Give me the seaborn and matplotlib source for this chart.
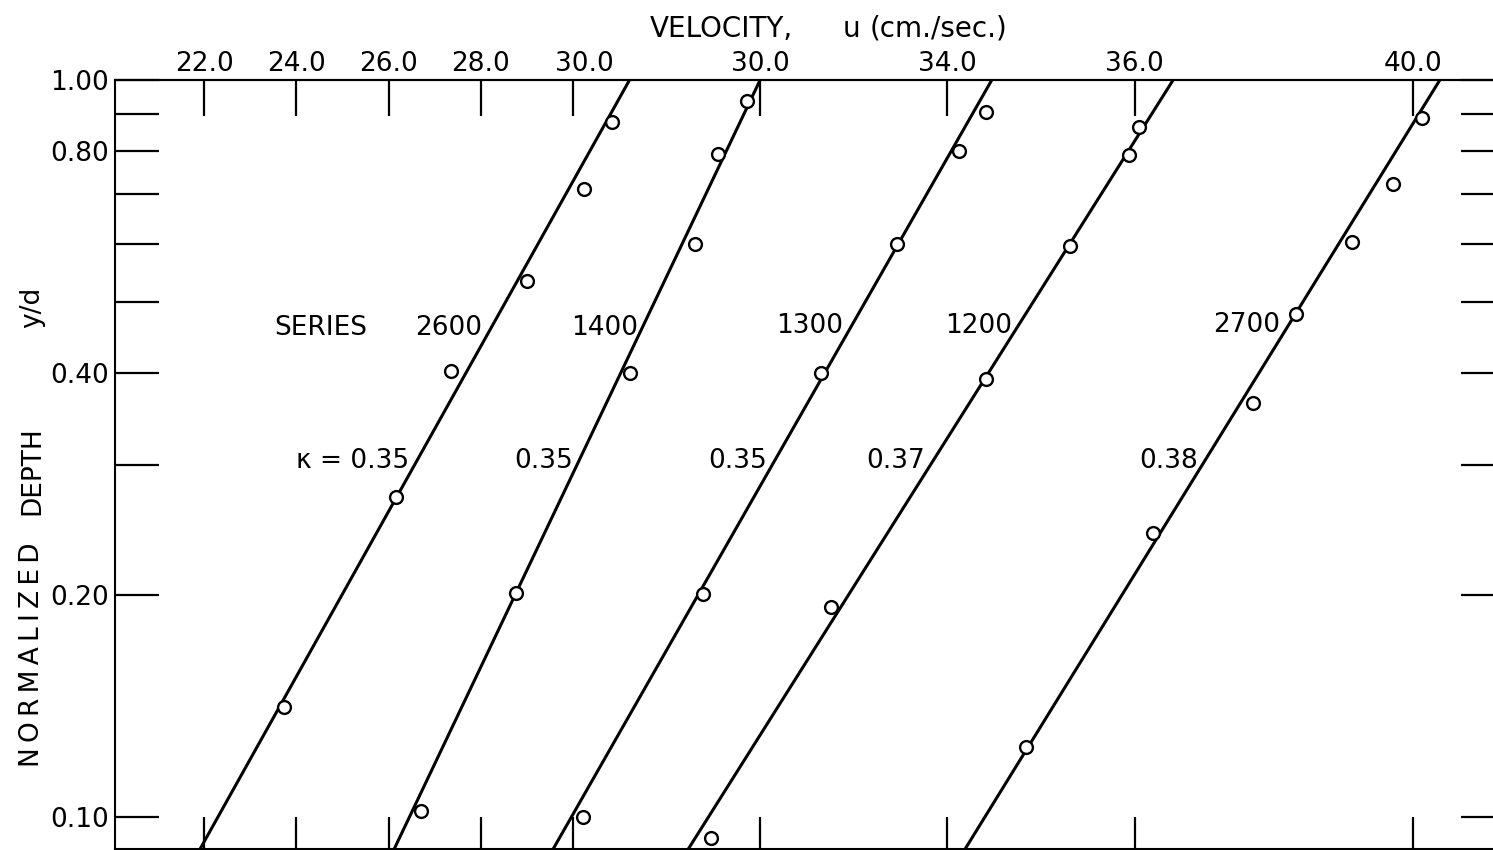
import numpy as np
import pandas as pd
import matplotlib
matplotlib.use("Agg")
import matplotlib.pyplot as plt
import matplotlib.transforms as mtransforms
from matplotlib.ticker import NullLocator, NullFormatter
import seaborn as sns

# ---------------------------------------------------------------------------
# Data: velocity profiles (velocity on the plotting scale, cm/sec) vs y/d
# ---------------------------------------------------------------------------
series_names = ["2600", "1400", "1300", "1200", "2700"]
kappa_values = ["0.35", "0.35", "0.35", "0.37", "0.38"]

u_2600 = [23.74, 26.15, 27.35, 28.99, 30.23, 30.85]
yd_2600 = [0.141, 0.272, 0.403, 0.534, 0.711, 0.878]

u_1400 = [26.71, 28.75, 31.22, 32.64, 33.14, 33.77]
yd_1400 = [0.102, 0.2015, 0.401, 0.599, 0.794, 0.9365]

u_1300 = [30.21, 32.81, 35.37, 37.01, 38.37, 38.94]
yd_1300 = [0.100, 0.2007, 0.400, 0.599, 0.802, 0.906]

u_1200 = [32.98, 35.58, 38.94, 40.76, 42.05, 42.27]
yd_1200 = [0.0937, 0.193, 0.393, 0.596, 0.792, 0.864]

u_2700 = [39.81, 42.56, 44.74, 45.66, 46.88, 47.77, 48.39]
yd_2700 = [0.1246, 0.243, 0.364, 0.481, 0.602, 0.722, 0.889]

# logarithmic-law fits: velocity at y/d = 0.1 and at y/d = 1.0
fit_u_at_tenth = [22.30, 26.45, 29.96, 32.93, 38.92]
fit_u_at_one = [31.22, 34.05, 39.07, 43.00, 48.78]

# axis ticks
velocity_tick_pos = [22.0, 24.0, 26.0, 28.0, 30.0, 34.05, 38.1, 42.17, 48.2]
velocity_tick_labels = ["22.0", "24.0", "26.0", "28.0", "30.0",
                        "30.0", "34.0", "36.0", "40.0"]
depth_ticks = [0.1, 0.2, 0.3, 0.4, 0.5, 0.6, 0.7, 0.8, 0.9, 1.0]
depth_tick_labels = ["0.10", "0.20", "", "0.40", "", "", "", "0.80", "", "1.00"]

# ---------------------------------------------------------------------------
profiles_u = [u_2600, u_1400, u_1300, u_1200, u_2700]
profiles_yd = [yd_2600, yd_1400, yd_1300, yd_1200, yd_2700]

points = pd.concat(
    [pd.DataFrame({"series": s, "u": u, "yd": yd})
     for s, u, yd in zip(series_names, profiles_u, profiles_yd)],
    ignore_index=True,
)

y_lo, y_hi = 0.0905, 1.0
fit_rows = []
for s, u01, u1 in zip(series_names, fit_u_at_tenth, fit_u_at_one):
    for yv in (0.085, y_hi):
        fit_rows.append({"series": s, "yd": yv,
                         "u": u01 + (u1 - u01) * (np.log10(yv) + 1.0)})
fits = pd.DataFrame(fit_rows)

sns.set_style("ticks")
plt.rcParams["font.family"] = ["DejaVu Sans"]
plt.rcParams["text.color"] = "black"
plt.rcParams["axes.edgecolor"] = "black"
plt.rcParams["xtick.color"] = "black"
plt.rcParams["ytick.color"] = "black"

W, H = 1493, 850
fig = plt.figure(figsize=(W / 100, H / 100), dpi=100)
fig.patch.set_facecolor("white")

ax_left, ax_right = 115, 1498
ax_top, ax_bottom = 80, 849
ax = fig.add_axes([ax_left / W, (H - ax_bottom) / H,
                   (ax_right - ax_left) / W, (ax_bottom - ax_top) / H])
ax.set_yscale("log")
ax.set_xlim(20.07, 50.04)
ax.set_ylim(y_lo, y_hi)

sns.lineplot(data=fits, x="u", y="yd", units="series", estimator=None,
             sort=False, color="black", linewidth=2.2, ax=ax, zorder=2)
sns.scatterplot(data=points, x="u", y="yd", marker="o", s=85,
                facecolor="white", edgecolor="black", linewidth=1.7,
                ax=ax, zorder=3, legend=False)

ax.set_xlabel("")
ax.set_ylabel("")
for sp in ax.spines.values():
    sp.set_linewidth(1.5)
    sp.set_color("black")

# left axis ticks (log depth)
ax.set_yticks(depth_ticks, depth_tick_labels)
ax.yaxis.set_minor_locator(NullLocator())
ax.tick_params(axis="y", which="major", direction="in", length=32,
               width=1.6, pad=4.5, labelsize=19, left=True, right=False)

# bottom ticks, unlabelled
ax.set_xticks(velocity_tick_pos)
ax.tick_params(axis="x", direction="in", length=23, width=1.6,
               bottom=True, top=False, labelbottom=False)

# top axis with velocity labels
secx = ax.secondary_xaxis("top")
secx.set_xticks(velocity_tick_pos, velocity_tick_labels)
secx.tick_params(direction="in", length=26, width=1.6, pad=2.5, labelsize=19)
secx.spines["top"].set_linewidth(1.5)
# the first "30.0" sits a little to the right of its tick
shift = mtransforms.ScaledTranslation(0.11, 0, fig.dpi_scale_trans)
tick30 = secx.xaxis.get_major_ticks()[4]
for lab in (tick30.label1, tick30.label2):
    lab.set_transform(lab.get_transform() + shift)

# right axis ticks, unlabelled
secy = ax.secondary_yaxis("right")
secy.set_yticks(depth_ticks)
secy.yaxis.set_minor_locator(NullLocator())
secy.yaxis.set_major_formatter(NullFormatter())
secy.tick_params(direction="in", length=27, width=1.6)

# series and kappa annotations
series_label_u = [28.02, 31.40, 35.85, 39.51, 45.32]
series_label_yd = [0.451, 0.451, 0.453, 0.453, 0.455]
kappa_label_u = [26.44, 30.00, 34.20, 37.62, 43.54]
kappa_label_yd = 0.2976

ax.text(23.52, 0.451, "SERIES", ha="left", va="baseline", fontsize=19)
for s, xu, yv in zip(series_names, series_label_u, series_label_yd):
    ax.text(xu, yv, s, ha="right", va="baseline", fontsize=19)
for i, (k, xu) in enumerate(zip(kappa_values, kappa_label_u)):
    txt = "κ = " + k if i == 0 else k
    ax.text(xu, kappa_label_yd, txt, ha="right", va="baseline", fontsize=19)

# axis titles
def px(x, y):
    return x / W, 1 - y / H

fig.text(*px(650, 37), "VELOCITY,", ha="left", va="baseline", fontsize=20)
fig.text(*px(843, 37), "u", ha="left", va="baseline", fontsize=20)
fig.text(*px(870, 37), "(cm./sec.)", ha="left", va="baseline", fontsize=20)

thin = "\u2009"
fig.text(*px(32, 655), thin.join("NORMALIZED"), rotation=90, ha="center",
         va="center", fontsize=19)
fig.text(*px(32, 471), "DEPTH", rotation=90, ha="center", va="center",
         fontsize=19)
fig.text(*px(32, 307), "y/d", rotation=90, ha="center", va="center",
         fontsize=19)

fig.savefig("out.png", dpi=100, facecolor="white")
